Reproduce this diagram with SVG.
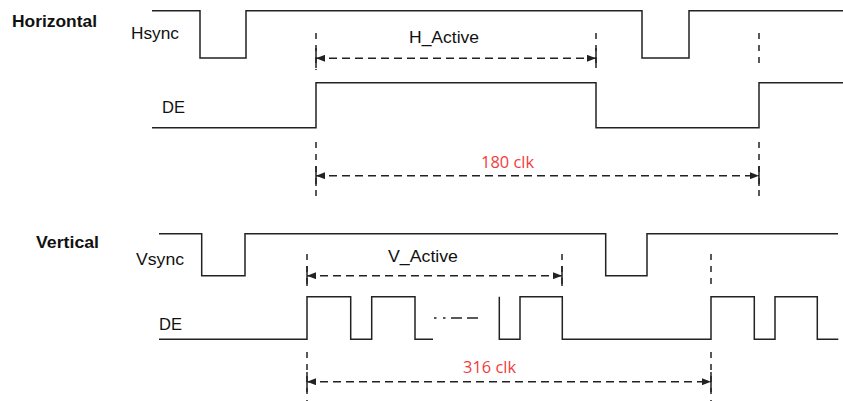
<svg xmlns="http://www.w3.org/2000/svg" width="843" height="401" viewBox="0 0 843 401">
<style>
.sig{fill:none;stroke:#222;stroke-width:1.5}
.mark{fill:none;stroke:#222;stroke-width:1.5;stroke-dasharray:6,6}
.tick{fill:none;stroke:#222;stroke-width:1.5}
.arr{fill:none;stroke:#222;stroke-width:1.5;stroke-dasharray:8,5;marker-start:url(#ah);marker-end:url(#ah)}
.lbl{font-family:"Liberation Sans",Arial,sans-serif;font-size:16.5px;fill:#111}
.hd{font-family:"Liberation Sans",Arial,sans-serif;font-size:16px;font-weight:bold;fill:#111}
.clk{font-family:"Open Sans","Liberation Sans",sans-serif;font-size:16px;fill:#f23c3c}
</style>
<defs>
<marker id="ah" viewBox="0 0 9 7" refX="9" refY="3.5" markerWidth="9" markerHeight="7" markerUnits="userSpaceOnUse" orient="auto-start-reverse">
<path d="M0,0 L9,3.5 L0,7 z" fill="#222"/>
</marker>
</defs>
<rect width="843" height="401" fill="#fff"/>
<g id="horizontal">
<text class="hd" x="12" y="27" textLength="85" lengthAdjust="spacingAndGlyphs">Horizontal</text>
<g id="hsync">
<text class="lbl" x="131" y="39" textLength="48" lengthAdjust="spacingAndGlyphs">Hsync</text>
<path class="sig" d="M152,10.7 H200 V58 H246 V10.7 H642 V58 H689 V10.7 H843"/>
</g>
<g id="h-de">
<text class="lbl" x="162" y="113" textLength="23" lengthAdjust="spacingAndGlyphs">DE</text>
<path class="sig" d="M152,127.7 H316 V82.7 H596 V127.7 H759 V82.7 H843"/>
</g>
<g id="h-active">
<text class="lbl" x="409" y="43" textLength="70" lengthAdjust="spacingAndGlyphs">H_Active</text>
</g>
<g id="h-clk">
<text class="clk" x="481" y="168" textLength="53" lengthAdjust="spacingAndGlyphs">180 clk</text>
</g>
</g>
<g id="vertical">
<text class="hd" x="36" y="248" textLength="63" lengthAdjust="spacingAndGlyphs">Vertical</text>
<g id="vsync">
<text class="lbl" x="136" y="265" textLength="48" lengthAdjust="spacingAndGlyphs">Vsync</text>
<path class="sig" d="M159,233.7 H201.7 V275.7 H245 V233.7 H605.7 V275.7 H647 V233.7 H838"/>
</g>
<g id="v-de">
<text class="lbl" x="159" y="330" textLength="23" lengthAdjust="spacingAndGlyphs">DE</text>
<path class="sig" d="M159,339.3 H307 V296.7 H350.7 V339.3 H371.7 V296.7 H415 V339.3 H433"/>
<path class="sig" d="M499.3,296.7 V339.3 H520 V296.7 H562.3 V339.3 H711 V296.7 H754.3 V339.3 H775 V296.7 H817.3 V339.3 H838.3"/>
<path class="tick" d="M434,318 h2.5 M443,318 h2.5 M451,318 h11 M467,318 h11"/>
</g>
<g id="v-active">
<text class="lbl" x="388" y="262" textLength="70" lengthAdjust="spacingAndGlyphs">V_Active</text>
</g>
<g id="v-clk">
<text class="clk" x="463" y="373" textLength="53" lengthAdjust="spacingAndGlyphs">316 clk</text>
</g>
</g>
<g id="connectors">
<path class="mark" d="M316,33 V70 M316,142 V200 M596,33 V69 M759,33 V69 M759,142 V200"/>
<path class="mark" d="M307,254 V285 M307,352 V401 M562,254 V285 M711,254 V285 M711,352 V401"/>
<path class="tick" d="M316,48 V68 M596,48 V68 M316,166 V186 M759,166 V186 M307,266 V286 M562,266 V286 M307,372 V392 M711,372 V392"/>
<line class="arr" x1="316" y1="58.3" x2="596" y2="58.3"/>
<line class="arr" x1="316" y1="175.7" x2="759" y2="175.7"/>
<line class="arr" x1="307" y1="275.7" x2="562" y2="275.7"/>
<line class="arr" x1="307" y1="381.7" x2="711" y2="381.7"/>
</g>
</svg>
